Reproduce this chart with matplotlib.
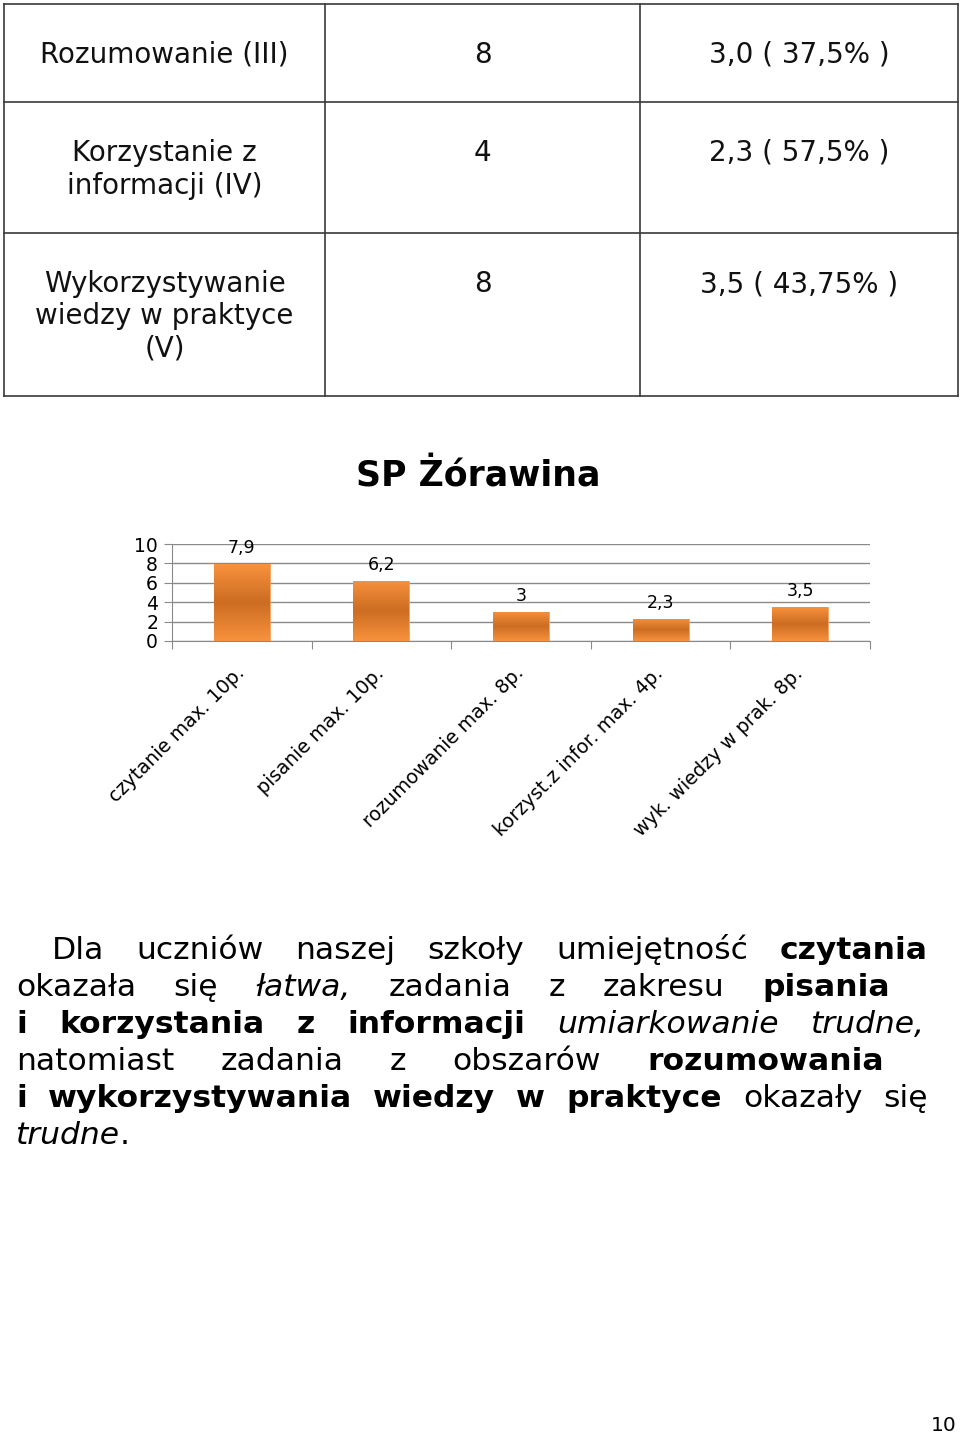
import matplotlib
matplotlib.use("Agg")
import matplotlib.pyplot as plt
import numpy as np
from matplotlib.colors import LinearSegmentedColormap

plt.rcParams['font.family'] = ['DejaVu Sans']

# ---------------- data ----------------
table_col1 = ["Rozumowanie (III)", "Korzystanie z\ninformacji (IV)", "Wykorzystywanie\nwiedzy w praktyce\n(V)"]
table_col2 = ["8", "4", "8"]
table_col3 = ["3,0 ( 37,5% )", "2,3 ( 57,5% )", "3,5 ( 43,75% )"]

chart_title = "SP Żórawina"
categories = ["czytanie max. 10p.", "pisanie max. 10p.", "rozumowanie max. 8p.",
              "korzyst.z infor. max. 4p.", "wyk. wiedzy w prak. 8p."]
values = [7.9, 6.2, 3.0, 2.3, 3.5]
value_labels = ["7,9", "6,2", "3", "2,3", "3,5"]
y_ticks = [0, 2, 4, 6, 8, 10]

paragraph = [
    [("Dla", "n"), ("uczniów", "n"), ("naszej", "n"), ("szkoły", "n"), ("umiejętność", "n"), ("czytania", "b")],
    [("okazała", "n"), ("się", "n"), ("łatwa,", "i"), ("zadania", "n"), ("z", "n"), ("zakresu", "n"), ("pisania", "b")],
    [("i", "b"), ("korzystania", "b"), ("z", "b"), ("informacji", "b"), ("umiarkowanie", "i"), ("trudne,", "i")],
    [("natomiast", "n"), ("zadania", "n"), ("z", "n"), ("obszarów", "n"), ("rozumowania", "b")],
    [("i", "b"), ("wykorzystywania", "b"), ("wiedzy", "b"), ("w", "b"), ("praktyce", "b"), ("okazały", "n"), ("się", "n")],
]
last_line = [("trudne", "i"), (".", "n")]
page_number = "10"

# ---------------- figure ----------------
W, H = 960, 1438
fig = plt.figure(figsize=(W / 100, H / 100), dpi=100)
page = fig.add_axes([0, 0, 1, 1])
page.set_xlim(0, W)
page.set_ylim(H, 0)
page.axis("off")

# table
tcol = "#3a3a3a"
xs = [4, 325, 640, 958]
ys = [4, 102, 233, 396]
for x in xs:
    page.plot([x, x], [ys[0], ys[-1]], color=tcol, lw=1.2)
for y in ys:
    page.plot([xs[0], xs[-1]], [y, y], color=tcol, lw=1.2)
centers = [(xs[i] + xs[i + 1]) / 2 for i in range(3)]
for r in range(3):
    for c, col in enumerate([table_col1, table_col2, table_col3]):
        for li, line in enumerate(col[r].split("\n")):
            page.text(centers[c], ys[r] + 59 + li * 32.5, line, ha="center", va="baseline",
                      fontsize=20, color="#111111")

# title
page.text(478, 486, chart_title, ha="center", va="baseline", fontsize=25, fontweight="bold")

# chart
ax = fig.add_axes([172 / W, 1 - 641 / H, (870 - 172) / W, 97 / H])
x = np.arange(len(values))
bars = ax.bar(x, values, width=0.4, color="#e8822e", edgecolor="#f5a060", linewidth=0.6, zorder=3)
cmap = LinearSegmentedColormap.from_list("og", ["#f7913d", "#cc6d22", "#f7913d"])
grad = np.linspace(0, 1, 100).reshape(-1, 1)
for b in bars:
    x0, y0 = b.get_x(), b.get_y()
    im = ax.imshow(grad, cmap=cmap, aspect="auto", zorder=3.5,
                   extent=[x0, x0 + b.get_width(), y0, y0 + b.get_height()], origin="lower")
    im.set_clip_path(b)
for xi, v, lab in zip(x, values, value_labels):
    ax.annotate(lab, (xi, v), xytext=(0, 5), textcoords="offset points",
                ha="center", va="bottom", fontsize=12.5)
ax.set_xlim(-0.5, len(values) - 0.5)
ax.set_ylim(0, 10)
ax.set_yticks(y_ticks)
ax.set_yticklabels([str(t) for t in y_ticks])
ax.yaxis.grid(True, color="#8a8a8a", lw=1.0, zorder=0)
ax.set_axisbelow(True)
gcol = "#8a8a8a"
for s in ["top", "right"]:
    ax.spines[s].set_visible(False)
ax.spines["left"].set_color(gcol)
ax.spines["bottom"].set_color(gcol)
ax.tick_params(axis="y", length=6, color=gcol, labelsize=13.5, pad=4)
ax.set_xticks(np.arange(-0.5, len(values), 1.0))
ax.set_xticklabels([])
ax.tick_params(axis="x", which="major", length=5.5, color=gcol)
ax.set_xticks(x, minor=True)
ax.set_xticklabels(categories, minor=True, rotation=45, ha="right", va="center",
                   rotation_mode="anchor", fontsize=13.8)
ax.tick_params(axis="x", which="minor", length=0, pad=21)
ax.set_facecolor("none")

# paragraph (justified)
fig.canvas.draw()
renderer = fig.canvas.get_renderer()
style = {"n": dict(), "b": dict(fontweight="bold"), "i": dict(fontstyle="italic")}
fs = 22.6
lefts = [52, 16, 16, 16, 16]
rights = [928, 890, 925, 884, 928]
base0, dy = 959, 37.1
for li, words in enumerate(paragraph):
    texts = [page.text(0, base0 + li * dy, w, fontsize=fs, va="baseline", ha="left", **style[s])
             for w, s in words]
    widths = [t.get_window_extent(renderer).width for t in texts]
    gap = (rights[li] - lefts[li] - sum(widths)) / (len(words) - 1)
    xpos = lefts[li]
    for t, w in zip(texts, widths):
        t.set_x(xpos)
        xpos += w + gap
xpos = 16
for w, s in last_line:
    t = page.text(xpos, base0 + 5 * dy, w, fontsize=fs, va="baseline", ha="left", **style[s])
    xpos += t.get_window_extent(renderer).width

page.text(957, 1438 - 7, page_number, ha="right", va="baseline", fontsize=14.5)

fig.savefig("out.png", dpi=100)
